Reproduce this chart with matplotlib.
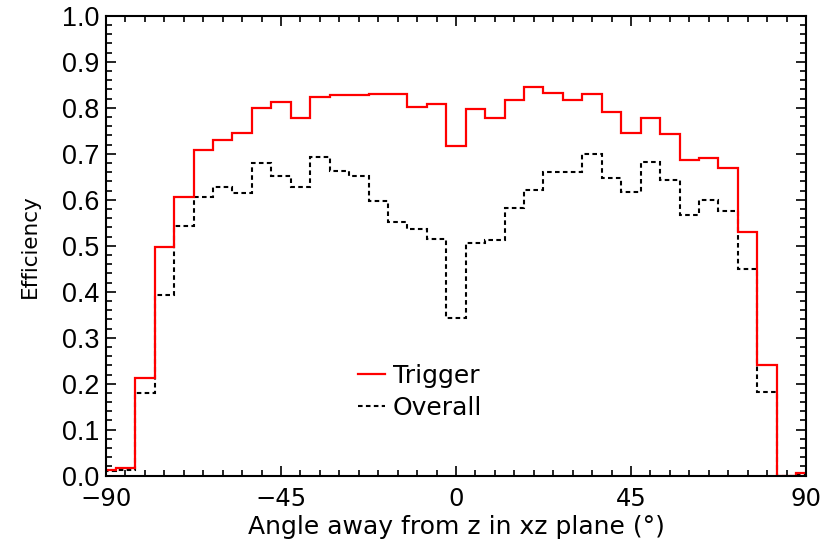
import numpy as np
import matplotlib
matplotlib.use("Agg")
import matplotlib.pyplot as plt
from matplotlib.ticker import MultipleLocator, FormatStrFormatter

# bin centres every 5 deg from -90 to 90 (outer bins clipped by the axis)
angle_centres = list(range(-90, 95, 5))

trigger_eff = [0.013, 0.017, 0.213, 0.497, 0.607, 0.709, 0.730, 0.746, 0.799,
               0.813, 0.779, 0.824, 0.829, 0.828, 0.831, 0.830, 0.801, 0.808,
               0.717, 0.798, 0.777, 0.816, 0.845, 0.832, 0.817, 0.830, 0.790,
               0.746, 0.779, 0.743, 0.687, 0.692, 0.669, 0.529, 0.240, 0.0,
               0.006]

overall_eff = [0.010, 0.012, 0.179, 0.392, 0.543, 0.607, 0.627, 0.614, 0.680,
               0.652, 0.627, 0.694, 0.662, 0.651, 0.598, 0.552, 0.536, 0.514,
               0.342, 0.506, 0.512, 0.582, 0.621, 0.661, 0.660, 0.699, 0.648,
               0.616, 0.683, 0.643, 0.567, 0.600, 0.576, 0.449, 0.181, 0.0,
               0.004]

x_ticks = [-90, -45, 0, 45, 90]
x_tick_labels = ["\u221290", "\u221245", "0", "45", "90"]

plt.rcParams['font.family'] = ['DejaVu Sans']

centres = np.array(angle_centres, dtype=float)
edges = np.append(centres - 2.5, centres[-1] + 2.5)

fig = plt.figure(figsize=(8.22, 5.48), dpi=100)
ax = fig.add_axes([0.129, 0.132, 0.8515, 0.839])

ax.stairs(overall_eff, edges, baseline=None, color='black', linewidth=1.5,
          linestyle=(0, (2.2, 1.6)), label='Overall')
ax.stairs(trigger_eff, edges, baseline=None, color='#ff0000', linewidth=1.6,
          label='Trigger')

ax.set_xlim(-90, 90)
ax.set_ylim(0, 1.0)
ax.set_xticks(x_ticks)
ax.set_xticklabels(x_tick_labels, fontsize=17.5)
ax.xaxis.set_minor_locator(MultipleLocator(5))
ax.yaxis.set_major_locator(MultipleLocator(0.1))
ax.yaxis.set_minor_locator(MultipleLocator(0.02))
ax.yaxis.set_major_formatter(FormatStrFormatter('%.1f'))
for lab in ax.get_yticklabels():
    lab.set_family(['Liberation Sans', 'DejaVu Sans'])
    lab.set_fontsize(19.4)

ax.tick_params(which='both', direction='in', top=True, right=True, width=1.2)
ax.tick_params(which='major', length=7)
ax.tick_params(which='minor', length=4)
ax.tick_params(axis='x', pad=8)
ax.tick_params(axis='y', pad=5)
for sp in ax.spines.values():
    sp.set_linewidth(1.5)

ax.set_xlabel('Angle away from z in xz plane (\u00b0)', fontsize=18, labelpad=3)
ax.set_ylabel('Efficiency', fontsize=15.5, labelpad=16)

handles, labels = ax.get_legend_handles_labels()
ax.legend(handles[::-1], labels[::-1], loc='center left',
          bbox_to_anchor=(0.36, 0.182), frameon=False, fontsize=18,
          borderpad=0, borderaxespad=0, handlelength=1.08, handletextpad=0.32,
          labelspacing=0.3)

fig.savefig('out.png', dpi=100)
